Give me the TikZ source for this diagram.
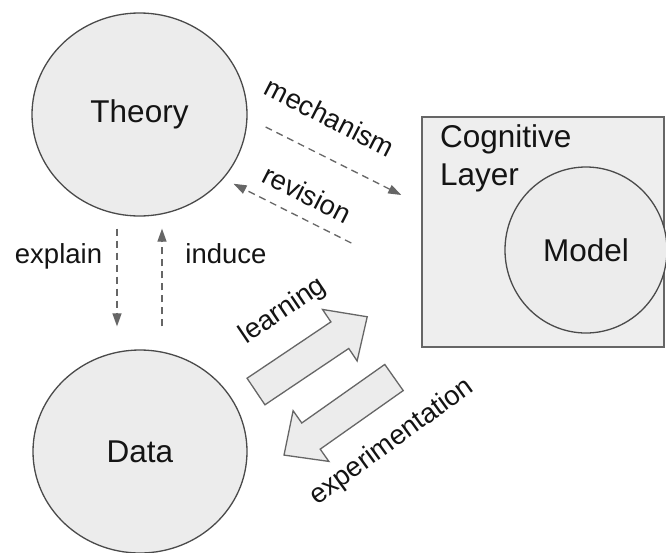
\documentclass[tikz,border=0pt]{standalone}
\usepackage{fontspec}
\setmainfont{Liberation Sans}
\usetikzlibrary{shapes.geometric,arrows.meta}

\definecolor{shapefill}{HTML}{ECECEC}
\definecolor{boxfill}{HTML}{EEEEEE}
\definecolor{edgegray}{HTML}{4A4A4A}
\definecolor{linegray}{HTML}{666666}
\definecolor{inkblack}{HTML}{141414}

\tikzset{
  bigtext/.style={font=\fontsize{31.5}{38}\selectfont, text=inkblack},
  smalltext/.style={font=\fontsize{27.5}{33}\selectfont, text=inkblack},
  bubble/.style={ellipse, draw=edgegray, fill=shapefill, line width=1.3pt,
    inner sep=0pt, bigtext},
  layerbox/.style={rectangle, draw=linegray, fill=boxfill, line width=1.5pt,
    inner sep=0pt},
  flow/.style={draw=linegray, line width=1.3pt, dash pattern=on 7pt off 5pt,
    -{Triangle[length=13pt,width=9pt]}},
  blockarrow/.style={draw=linegray, fill=shapefill, line width=1.3pt,
    line join=miter},
}

\begin{document}
\begin{tikzpicture}[x=1pt, y=-1pt]
  % canvas
  \fill[white] (0,0) rectangle (666,552);
  \useasboundingbox (0,0) rectangle (666,552);

  % cognitive layer with the model inside
  \node[layerbox, minimum width=242pt, minimum height=230pt] (layer) at (543,232) {};
  \node[bigtext, align=left, anchor=north west, inner sep=0pt] (layername)
    at (440,124.5) {Cognitive\\Layer};
  \node[bubble, minimum width=162pt, minimum height=166pt] (model) at (586,250) {Model};

  % theory and data
  \node[bubble, minimum width=215pt, minimum height=203pt] (theory) at (139.5,114.5) {Theory};
  \node[bubble, minimum width=214pt, minimum height=203pt] (data) at (140,451.5) {Data};

  % theory <-> data
  \draw[flow] ([xshift=-22.5pt,yshift=-12pt]theory.south)
           -- ([xshift=-23pt,yshift=23pt]data.north);
  \draw[flow] ([xshift=22pt,yshift=23pt]data.north)
           -- ([xshift=22.5pt,yshift=-12pt]theory.south);
  \node[smalltext, anchor=base] (explain) at (58.5,263) {explain};
  \node[smalltext, anchor=base] (induce) at (226,263) {induce};

  % theory <-> cognitive layer
  \draw[flow] ([xshift=18pt,yshift=-12.5pt]theory.east)
           -- ([xshift=-20pt,yshift=37pt]layer.west);
  \draw[flow] ([xshift=-70pt,yshift=-11pt]layer.west)
           -- ([xshift=17.5pt,yshift=3pt]theory.south east);
  \node[smalltext, rotate=-27] (mechanism) at (330,117) {mechanism};
  \node[smalltext, rotate=-27] (revision) at (307,194) {revision};

  % data <-> cognitive layer (block arrows)
  \begin{scope}[shift={(256,391.5)}, rotate=33.9]
    \draw[blockarrow] (0,-16) -- (101,-16) -- (101,-31) -- (134,0)
      -- (101,31) -- (101,16) -- (0,16) -- cycle;
  \end{scope}
  \begin{scope}[shift={(394,377.5)}, rotate=215.2]
    \draw[blockarrow] (0,-16) -- (101.6,-16) -- (101.6,-31) -- (134.6,0)
      -- (101.6,31) -- (101.6,16) -- (0,16) -- cycle;
  \end{scope}
  \node[smalltext, rotate=34] (learning) at (283,311) {learning};
  \node[smalltext, rotate=36] (experimentation) at (392,442) {experimentation};
\end{tikzpicture}
\end{document}
